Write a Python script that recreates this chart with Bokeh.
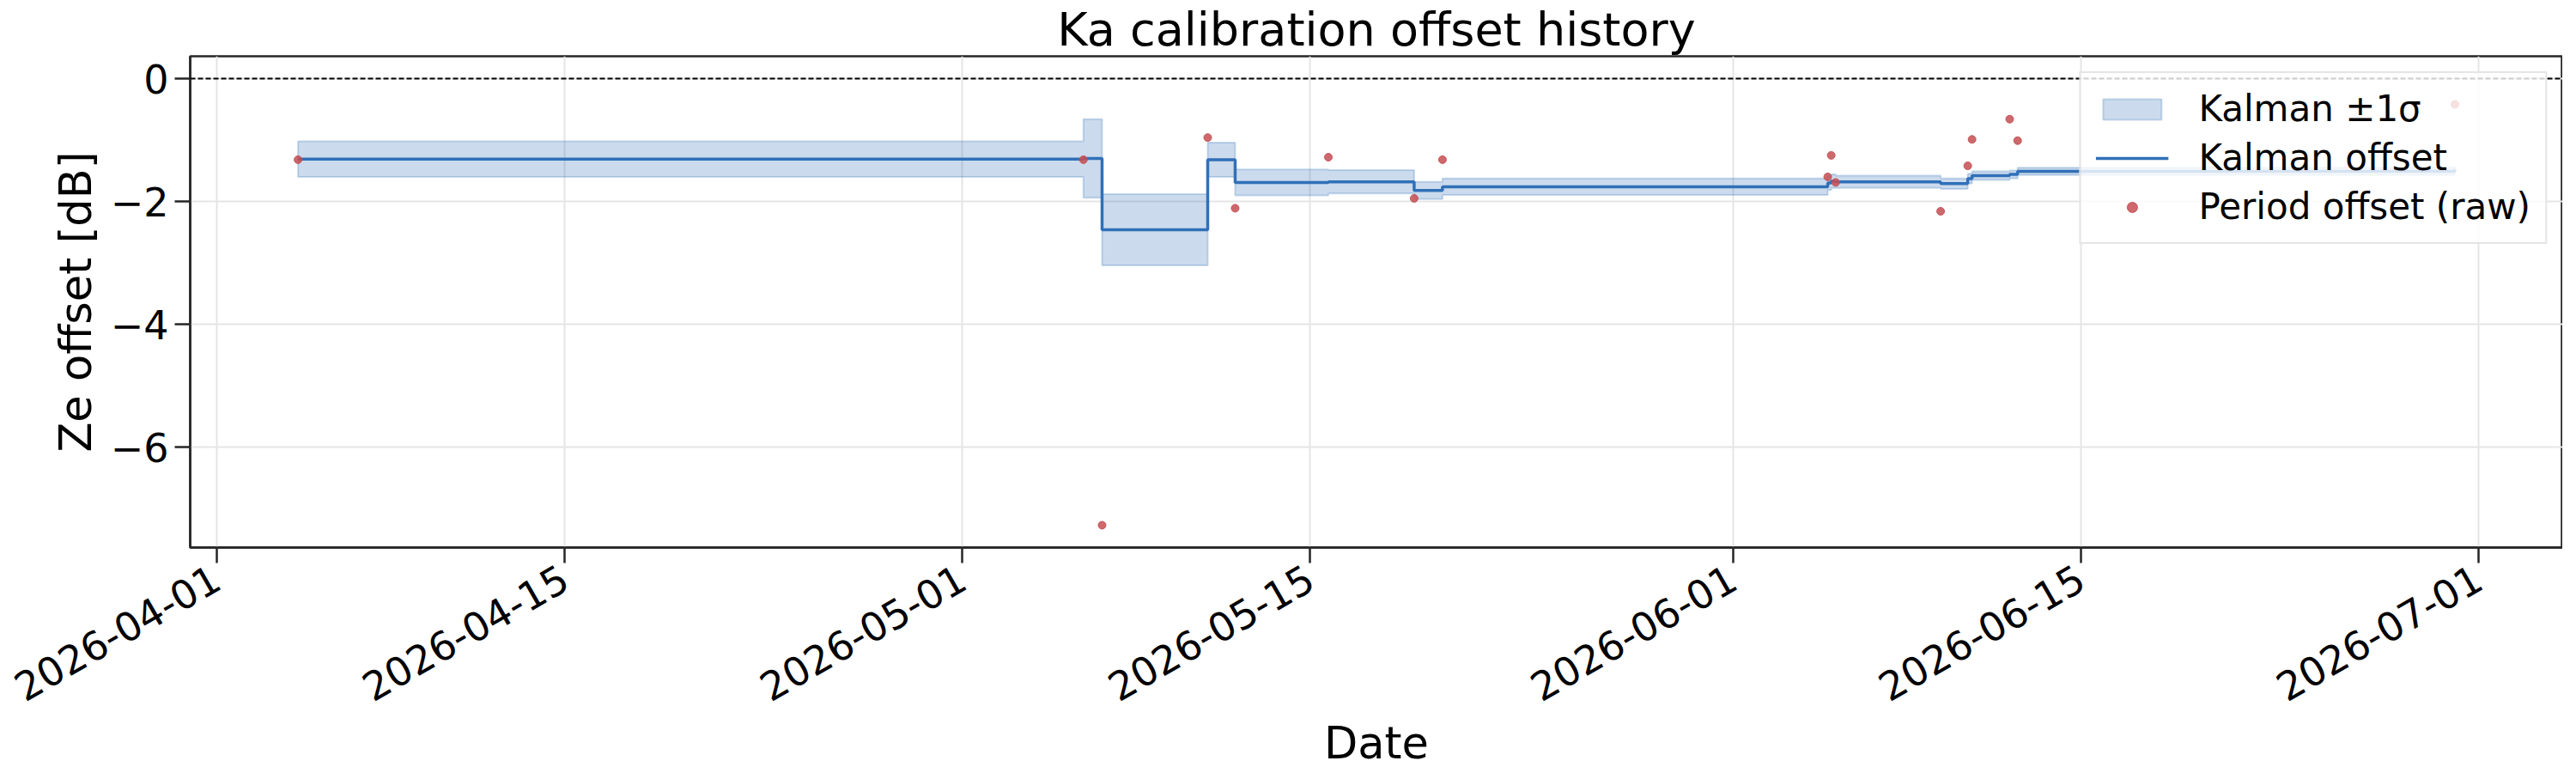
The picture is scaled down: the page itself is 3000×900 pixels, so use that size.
import math
import numpy as np
import pandas as pd
from bokeh.plotting import figure
from bokeh.models import (FixedTicker, DatetimeTickFormatter, CustomJSTickFormatter,
                          Span, Legend, LegendItem, Range1d)
from bokeh.embed import file_html
from bokeh.resources import INLINE

# ---- data ----
times = ["2026-04-04 06:40", "2026-05-05 21:00", "2026-05-06 15:00", "2026-05-10 21:00",
         "2026-05-11 23:30", "2026-05-15 17:30", "2026-05-19 04:20", "2026-05-20 07:40",
         "2026-06-04 19:40", "2026-06-04 23:00", "2026-06-05 03:20", "2026-06-09 08:40",
         "2026-06-10 10:50", "2026-06-10 15:00", "2026-06-12 03:20", "2026-06-12 11:00",
         "2026-06-30 01:10"]
raw_offset = [-1.32, -1.32, -7.27, -0.96, -2.11, -1.28, -1.95, -1.32,
              -1.60, -1.25, -1.69, -2.16, -1.42, -0.99, -0.66, -1.01, -0.42]
kalman_mean = [-1.31, -1.30, -2.46, -1.32, -1.69, -1.68, -1.82, -1.76,
               -1.70, -1.67, -1.68, -1.71, -1.63, -1.58, -1.56, -1.51, -1.48]
kalman_sigma = [0.29, 0.64, 0.58, 0.28, 0.21, 0.19, 0.14, 0.135,
                0.115, 0.11, 0.10, 0.085, 0.08, 0.07, 0.065, 0.06, 0.06]
x_tick_labels = ["2026-04-01", "2026-04-15", "2026-05-01", "2026-05-15",
                 "2026-06-01", "2026-06-15", "2026-07-01"]
y_ticks = [0, -2, -4, -6]

# ---- derived arrays ----
def to_ms(vals):
    return pd.to_datetime(vals).values.astype("datetime64[ms]").astype(np.int64).astype(float)

t_ms = to_ms(times)
mean = np.array(kalman_mean)
sig = np.array(kalman_sigma)
upper = mean + sig
lower = mean - sig
raw = np.array(raw_offset)

def step_after(x, y):
    n = len(x)
    xs = np.empty(2 * n - 1)
    ys = np.empty(2 * n - 1)
    xs[0::2] = x
    xs[1::2] = x[1:]
    ys[0::2] = y
    ys[1::2] = y[:-1]
    return xs, ys

xs_m, ys_m = step_after(t_ms, mean)
xs_u, ys_u = step_after(t_ms, upper)
xs_l, ys_l = step_after(t_ms, lower)
patch_x = np.concatenate([xs_u, xs_l[::-1]])
patch_y = np.concatenate([ys_u, ys_l[::-1]])

span_x = t_ms[-1] - t_ms[0]
x0, x1 = t_ms[0] - 0.05 * span_x, t_ms[-1] + 0.05 * span_x
ylo = min(raw.min(), lower.min(), 0.0)
yhi = max(raw.max(), upper.max(), 0.0)
pad = 0.05 * (yhi - ylo)

FONT = "DejaVu Sans"
BLUE = "#3070b8"
RED = "#c44e52"

p = figure(frame_width=2763, frame_height=572, x_axis_type="datetime",
           output_backend="svg", toolbar_location=None,
           x_range=Range1d(x0, x1), y_range=Range1d(ylo - pad, yhi + pad),
           min_border_left=221, min_border_right=0, min_border_top=52,
           min_border_bottom=10, title="Ka calibration offset history")

p.title.text_font = FONT
p.title.text_font_size = "54px"
p.title.text_font_style = "normal"
p.title.align = "center"
p.title.standoff = 0
p.title.text_color = "black"

band = p.patch(patch_x, patch_y, fill_color=BLUE, fill_alpha=0.25,
               line_color=BLUE, line_alpha=0.25, line_width=2)
kline = p.line(xs_m, ys_m, line_color=BLUE, line_width=3.5)
pts = p.scatter(t_ms, raw, size=9, fill_color=RED, fill_alpha=0.85,
                line_color=RED, line_alpha=0.9)

zero = Span(location=0, dimension="width", line_color="black",
            line_width=2, line_dash="6 3")
p.add_layout(zero)

# axes
for ax in (p.xaxis[0], p.yaxis[0]):
    ax.axis_line_color = "#262626"
    ax.axis_line_width = 2.5
    ax.major_tick_line_color = "#262626"
    ax.major_tick_line_width = 2.5
    ax.major_tick_out = 18
    ax.major_tick_in = 0
    ax.minor_tick_line_color = None
    ax.major_label_text_font = FONT
    ax.major_label_text_font_size = "46px"
    ax.major_label_text_color = "black"
    ax.axis_label_text_font = FONT
    ax.axis_label_text_font_size = "51px"
    ax.axis_label_text_font_style = "normal"
    ax.axis_label_text_color = "black"

p.xaxis.axis_label = "Date"
p.yaxis.axis_label = "Ze offset [dB]"
p.xaxis.ticker = FixedTicker(ticks=list(to_ms(x_tick_labels)))
p.xaxis.formatter = DatetimeTickFormatter(days="%Y-%m-%d", months="%Y-%m-%d",
                                          hours="%Y-%m-%d", years="%Y-%m-%d",
                                          context=None)
p.xaxis.major_label_orientation = math.pi / 6
p.xaxis.major_label_standoff = 14
p.xaxis.axis_label_standoff = 0
p.yaxis.ticker = FixedTicker(ticks=y_ticks)
p.yaxis.formatter = CustomJSTickFormatter(code="return tick.toString().replace('-', '\\u2212');")
p.yaxis.major_label_standoff = 7
p.yaxis.axis_label_standoff = 8

p.xgrid.grid_line_color = "#e5e5e5"
p.ygrid.grid_line_color = "#e5e5e5"
p.xgrid.grid_line_width = 2
p.ygrid.grid_line_width = 2

p.outline_line_color = "#262626"
p.outline_line_width = 2.5
p.background_fill_color = "white"
p.border_fill_color = "white"

legend = Legend(items=[LegendItem(label="Kalman \u00b11\u03c3", renderers=[band]),
                       LegendItem(label="Kalman offset", renderers=[kline]),
                       LegendItem(label="Period offset (raw)", renderers=[pts])],
                location="top_right")
legend.label_text_font = FONT
legend.label_text_font_size = "42px"
legend.label_text_color = "black"
legend.glyph_width = 85
legend.glyph_height = 30
legend.label_standoff = 35
legend.padding = 17
legend.spacing = 8
legend.margin = 18
legend.border_line_color = "#cccccc"
legend.border_line_width = 2
legend.background_fill_alpha = 0.8
p.add_layout(legend)

open("out.html", "w").write(file_html(p, INLINE))
